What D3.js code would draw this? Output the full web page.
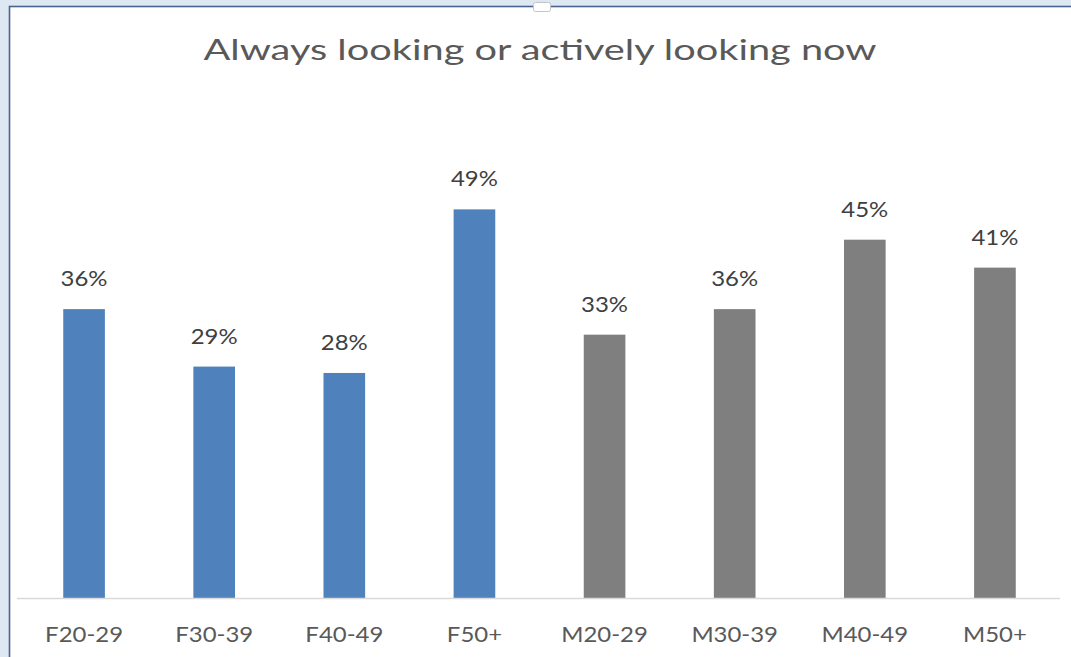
<!DOCTYPE html>
<html>
<head>
<meta charset="utf-8">
<script src="https://cdn.jsdelivr.net/npm/d3@7"></script>
<style>
  body { margin: 0; background: #dee8f3; }
  svg { display: block; }
</style>
</head>
<body>
<svg></svg>
<script>
// chart data
var categories = ["F20-29", "F30-39", "F40-49", "F50+", "M20-29", "M30-39", "M40-49", "M50+"];
var values = [0.362, 0.29, 0.282, 0.487, 0.33, 0.362, 0.449, 0.414];
var groups = ["F", "F", "F", "F", "M", "M", "M", "M"];
var title = "Always looking or actively looking now";

var width = 1071;
var height = 657;

var colors = { F: "#4f81bd", M: "#7f7f7f" };

// the source picture is stretched sideways, so text gets a scaleX
var titleStretch = 1.37;
var labelStretch = 1.14;

var svg = d3.select("svg")
    .attr("width", width)
    .attr("height", height);

// chart area (white box with the blue frame on left/top)
svg.append("rect")
    .attr("x", 9.5)
    .attr("y", 6.5)
    .attr("width", width + 20)
    .attr("height", height + 20)
    .attr("fill", "#fff")
    .attr("stroke", "#4a6390")
    .attr("stroke-width", 1.6);

// little handle at top centre
svg.append("rect")
    .attr("x", 533.5)
    .attr("y", 2.5)
    .attr("width", 17)
    .attr("height", 9)
    .attr("rx", 2)
    .attr("fill", "#fff")
    .attr("stroke", "#c4c4c4");

var x = d3.scaleBand()
    .domain(categories)
    .range([19, 1060])
    .paddingInner(0.68)
    .paddingOuter(0.34);

var y = d3.scaleLinear()
    .domain([0, 0.5])
    .range([598, 199]);

var fmt = d3.format(".0%");

svg.append("text")
    .attr("transform", `translate(540,60) scale(${titleStretch},1)`)
    .attr("text-anchor", "middle")
    .attr("font-family", "Lato, sans-serif")
    .attr("font-size", 29)
    .attr("fill", "#595959")
    .text(title);

var data = categories.map((c, i) => ({ cat: c, value: values[i], group: groups[i] }));

svg.append("g")
  .selectAll("rect")
  .data(data)
  .join("rect")
    .attr("x", d => x(d.cat))
    .attr("y", d => y(d.value))
    .attr("width", x.bandwidth())
    .attr("height", d => y(0) - y(d.value))
    .attr("fill", d => colors[d.group]);

// axis
var axis = svg.append("g")
    .attr("transform", `translate(0,${y(0) + 0.5})`)
    .call(d3.axisBottom(x).tickSize(0).tickSizeOuter(0));

axis.select(".domain")
    .attr("stroke", "#d9d9d9")
    .attr("stroke-width", 1.5)
    .attr("d", "M17,0H1060");

axis.selectAll("text")
    .attr("y", 0)
    .attr("dy", 0)
    .attr("transform", `translate(0,43) scale(${labelStretch},1)`)
    .attr("font-family", "Lato, sans-serif")
    .attr("font-size", 21)
    .attr("fill", "#595959");

// value labels
svg.append("g")
    .attr("font-family", "Lato, sans-serif")
    .attr("font-size", 21)
    .attr("fill", "#404040")
    .attr("text-anchor", "middle")
  .selectAll("text")
  .data(data)
  .join("text")
    .attr("transform", d => `translate(${x(d.cat) + x.bandwidth() / 2},${y(d.value) - 23}) scale(${labelStretch},1)`)
    .text(d => fmt(d.value));
</script>
</body>
</html>
